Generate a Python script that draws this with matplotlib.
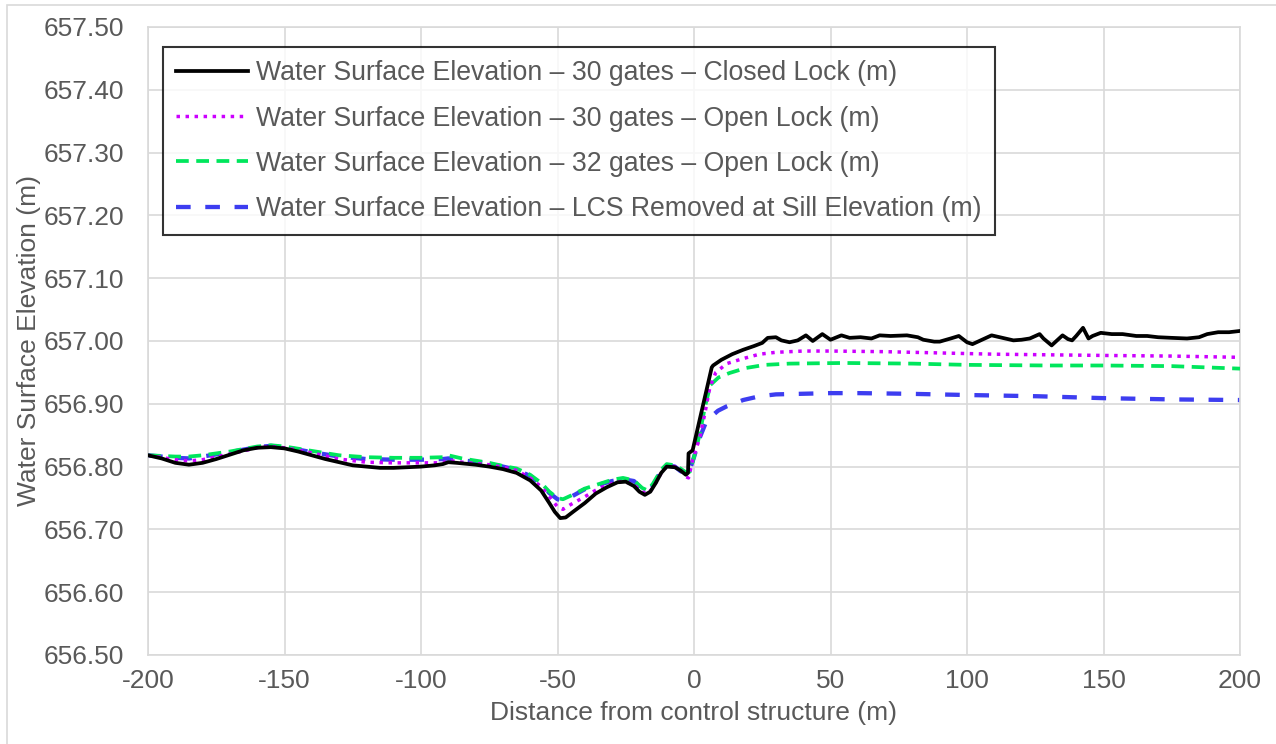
import matplotlib
matplotlib.use("Agg")
import matplotlib.pyplot as plt
from matplotlib.patches import Rectangle

plt.rcParams['font.family'] = ['Liberation Sans', 'DejaVu Sans']
plt.rcParams['axes.unicode_minus'] = False

# Closed lock, 30 gates
x_closed = [-200, -195, -190, -185, -180, -175, -170, -165, -160, -155, -150, -145, -140, -135,
            -130, -125, -120, -115, -110, -105, -100, -95, -92, -90, -87, -80, -75, -70, -65,
            -60, -56, -53, -51, -49, -47, -44, -40, -36, -32, -28, -25, -22, -20, -18, -16,
            -14, -12, -10, -7, -5, -3, -2.2, -2, -0.5, 6.5, 7, 10, 14, 18, 22, 25, 27, 30,
            32, 35, 38, 41, 43.5, 47, 50, 54, 57, 61, 65, 68, 72, 78, 82, 84, 88, 90, 94, 97,
            100, 102, 106, 109, 113, 117, 120, 123, 126.6, 128, 131, 133, 135, 137, 138.5,
            140, 142.5, 144.5, 146, 149, 153, 157, 162, 166, 170, 175, 180.6, 185, 188, 192,
            196, 200]
y_closed = [656.818, 656.813, 656.806, 656.803, 656.806, 656.812, 656.819, 656.826, 656.830,
            656.831, 656.829, 656.824, 656.818, 656.812, 656.807, 656.802, 656.800, 656.798,
            656.798, 656.799, 656.800, 656.802, 656.804, 656.807, 656.806, 656.803, 656.800,
            656.796, 656.790, 656.778, 656.762, 656.742, 656.728, 656.718, 656.719, 656.729,
            656.742, 656.757, 656.767, 656.775, 656.776, 656.769, 656.760, 656.755, 656.760,
            656.774, 656.790, 656.800, 656.799, 656.794, 656.787, 656.790, 656.821, 656.826,
            656.958, 656.961, 656.970, 656.979, 656.986, 656.992, 656.997, 657.005, 657.006,
            657.001, 656.998, 657.001, 657.009, 657.000, 657.011, 657.002, 657.009, 657.005,
            657.006, 657.004, 657.009, 657.008, 657.009, 657.006, 657.002, 656.999, 656.999,
            657.004, 657.008, 656.998, 656.995, 657.003, 657.009, 657.005, 657.001, 657.002,
            657.004, 657.011, 657.004, 656.993, 657.001, 657.009, 657.003, 657.001, 657.008,
            657.021, 657.004, 657.008, 657.013, 657.011, 657.011, 657.008, 657.008, 657.006,
            657.005, 657.004, 657.006, 657.011, 657.014, 657.014, 657.016]

# Open lock, 30 gates
x_open30 = [-200, -190, -185, -180, -170, -160, -155, -150, -140, -130, -120, -110, -100, -92,
            -90, -85, -75, -70, -65, -60, -56, -53, -50, -48, -45, -40, -35, -30, -26, -22,
            -19, -17, -15, -12, -10, -7, -5, -3, -2, -0.5, 2, 4, 5.8, 8, 12, 18, 24, 30, 40,
            50, 70, 90, 110, 130, 150, 175, 200]
y_open30 = [656.818, 656.811, 656.809, 656.811, 656.820, 656.830, 656.832, 656.830, 656.822,
            656.812, 656.807, 656.806, 656.806, 656.806, 656.810, 656.807, 656.803, 656.799,
            656.794, 656.782, 656.768, 656.752, 656.736, 656.732, 656.740, 656.752, 656.765,
            656.773, 656.777, 656.771, 656.760, 656.757, 656.766, 656.790, 656.800, 656.800,
            656.795, 656.784, 656.782, 656.810, 656.845, 656.885, 656.926, 656.950, 656.964,
            656.972, 656.979, 656.982, 656.984, 656.984, 656.983, 656.981, 656.979, 656.978,
            656.977, 656.976, 656.974]

# Open lock, 32 gates
x_open32 = [-200, -190, -185, -180, -170, -160, -155, -150, -140, -130, -120, -110, -100, -92,
            -90, -85, -75, -70, -65, -60, -56, -53, -50, -48, -45, -40, -35, -30, -26, -22,
            -19, -17, -15, -12, -10, -7, -5, -3, -1.5, 0, 2, 4, 6, 9, 13, 19, 26, 35, 55, 80,
            100, 130, 150, 175, 200]
y_open32 = [656.818, 656.816, 656.816, 656.818, 656.824, 656.832, 656.834, 656.832, 656.825,
            656.818, 656.815, 656.814, 656.814, 656.815, 656.818, 656.813, 656.806, 656.801,
            656.797, 656.787, 656.774, 656.760, 656.750, 656.748, 656.754, 656.765, 656.772,
            656.779, 656.782, 656.778, 656.766, 656.762, 656.773, 656.795, 656.804, 656.802,
            656.797, 656.791, 656.792, 656.815, 656.850, 656.895, 656.930, 656.942, 656.949,
            656.957, 656.962, 656.964, 656.965, 656.964, 656.962, 656.961, 656.961, 656.960,
            656.956]

# LCS removed at sill elevation
x_lcs = [-200, -190, -185, -180, -170, -160, -155, -150, -140, -130, -120, -110, -100, -92,
         -90, -85, -75, -70, -65, -60, -56, -53, -50, -48, -45, -40, -35, -30, -26, -22, -19,
         -17, -15, -12, -10, -7, -5, -3, -1.5, 0, 2.2, 4.6, 8.8, 12, 18, 24, 30, 40, 50, 60,
         78, 100, 126, 150, 175, 200]
y_lcs = [656.818, 656.814, 656.813, 656.816, 656.823, 656.831, 656.833, 656.831, 656.823,
         656.816, 656.812, 656.811, 656.811, 656.812, 656.813, 656.810, 656.805, 656.800,
         656.795, 656.785, 656.772, 656.758, 656.748, 656.746, 656.752, 656.764, 656.771,
         656.777, 656.780, 656.777, 656.764, 656.760, 656.770, 656.793, 656.802, 656.800,
         656.793, 656.788, 656.796, 656.815, 656.847, 656.873, 656.889, 656.896, 656.906,
         656.912, 656.915, 656.916, 656.917, 656.917, 656.916, 656.914, 656.912, 656.909,
         656.907, 656.906]

labels = [
    "Water Surface Elevation \u2013 30 gates \u2013 Closed Lock (m)",
    "Water Surface Elevation \u2013 30 gates \u2013 Open Lock (m)",
    "Water Surface Elevation \u2013 32 gates \u2013 Open Lock (m)",
    "Water Surface Elevation \u2013 LCS Removed at Sill Elevation (m)",
]

x_ticks = [-200, -150, -100, -50, 0, 50, 100, 150, 200]
y_ticks = [656.5, 656.6, 656.7, 656.8, 656.9, 657.0, 657.1, 657.2, 657.3, 657.4, 657.5]

text_color = "#595959"
grid_color = "#d9d9d9"

fig = plt.figure(figsize=(12.76, 7.44), dpi=100)
fig.patches.append(Rectangle((7 / 1276, -0.05), 1.1, 1.05 - 5 / 744, transform=fig.transFigure,
                             fill=False, edgecolor=grid_color, linewidth=1.2))
ax = fig.add_axes([148 / 1276, 1 - 655 / 744, (1240 - 148) / 1276, (655 - 27) / 744])

ax.plot(x_closed, y_closed, color="black", lw=2.7, label=labels[0], zorder=5)
ax.plot(x_open30, y_open30, color="#cc00ff", lw=2.5, linestyle=(0, (1, 1.6)), label=labels[1], zorder=4)
ax.plot(x_open32, y_open32, color="#00e65c", lw=2.7, linestyle=(0, (3.4, 2.0)), label=labels[2], zorder=3)
ax.plot(x_lcs, y_lcs, color="#3d3df0", lw=3.1, linestyle=(0, (3.4, 3.4)), label=labels[3], zorder=2)

ax.set_xlim(-200, 200)
ax.set_ylim(656.5, 657.5)
ax.set_xticks(x_ticks)
ax.set_yticks(y_ticks)
ax.set_xticklabels([str(v) for v in x_ticks])
ax.set_yticklabels([f"{v:.2f}" for v in y_ticks])
ax.grid(True, color=grid_color, lw=1.2)
ax.set_axisbelow(True)
for s in ax.spines.values():
    s.set_color(grid_color)
    s.set_linewidth(1.2)
ax.tick_params(axis="x", length=0, labelsize=19, colors=text_color, pad=10)
ax.tick_params(axis="y", length=0, labelsize=19, colors=text_color, pad=17)

ax.set_xlabel("Distance from control structure (m)", fontsize=19, color=text_color, labelpad=6)
ax.set_ylabel("Water Surface Elevation (m)", fontsize=19, color=text_color, labelpad=2)

leg = ax.legend(loc="upper left", bbox_to_anchor=(163 / 1276, 1 - 47 / 744),
                bbox_transform=fig.transFigure, borderaxespad=0, fontsize=19.2,
                frameon=True, fancybox=False, handlelength=2.7, handletextpad=0.3,
                labelspacing=0.72, borderpad=0.5, labelcolor=text_color)
leg.get_frame().set_edgecolor("black")
leg.get_frame().set_linewidth(1.5)
leg.set_zorder(10)

fig.savefig("out.png", dpi=100)
